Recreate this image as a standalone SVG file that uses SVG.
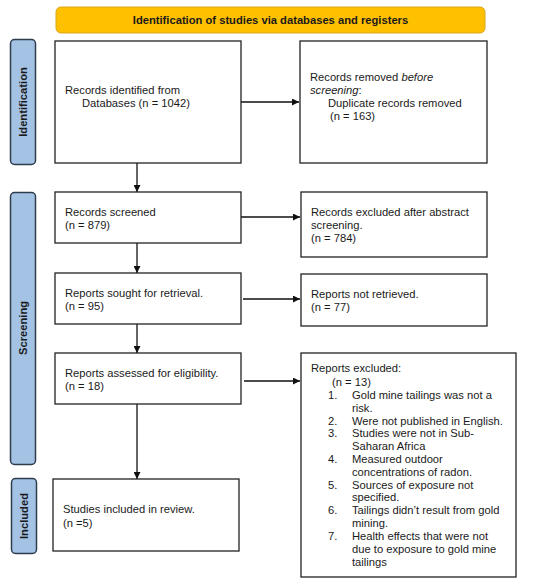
<svg xmlns="http://www.w3.org/2000/svg" width="550" height="584" viewBox="0 0 550 584">
<defs>
<style>
.box{fill:#fff;stroke:#222;stroke-width:1.3}
.side{fill:#a4c2e4;stroke:#2e3c4c;stroke-width:1.5}
.t{font-family:"Liberation Sans",Arial,sans-serif;font-size:11.2px;fill:#1a1a1a}
.b{font-family:"Liberation Sans",Arial,sans-serif;font-size:11.2px;font-weight:bold;fill:#1a1a1a}
.c{stroke:#111;stroke-width:1.3;fill:none;marker-end:url(#ah)}
</style>
<marker id="ah" viewBox="0 0 10 10" refX="10" refY="5" markerWidth="7" markerHeight="7" markerUnits="userSpaceOnUse" orient="auto">
<path d="M0,0 L10,5 L0,10 z" fill="#111"/>
</marker>
</defs>
<rect width="550" height="584" fill="#fff"/>

<g id="header">
<rect x="56" y="7" width="429" height="26" rx="5" fill="#ffc000" stroke="#d8a51a" stroke-width="1"/>
<text class="b" x="270.5" y="24" text-anchor="middle">Identification of studies via databases and registers</text>
</g>

<g id="side-identification">
<rect class="side" x="10.5" y="39.5" width="25" height="125" rx="4"/>
<text class="b" transform="translate(27,102) rotate(-90)" text-anchor="middle">Identification</text>
</g>
<g id="side-screening">
<rect class="side" x="10.5" y="192.5" width="25" height="272" rx="4"/>
<text class="b" transform="translate(27,328) rotate(-90)" text-anchor="middle">Screening</text>
</g>
<g id="side-included">
<rect class="side" x="11.5" y="478.5" width="25" height="75" rx="4"/>
<text class="b" transform="translate(28,516) rotate(-90)" text-anchor="middle">Included</text>
</g>

<g id="connectors">
<line class="c" x1="241" y1="102" x2="299" y2="102"/>
<line class="c" x1="137" y1="163" x2="137" y2="192"/>
<line class="c" x1="241" y1="217" x2="300" y2="217"/>
<line class="c" x1="137" y1="243" x2="137" y2="273"/>
<line class="c" x1="243" y1="299" x2="300" y2="299"/>
<line class="c" x1="137" y1="324" x2="137" y2="353"/>
<line class="c" x1="244" y1="381" x2="300" y2="381"/>
<line class="c" x1="137" y1="404" x2="137" y2="479"/>
</g>

<g id="identified">
<rect class="box" x="55" y="41" width="186" height="122"/>
<text class="t" x="65" y="94">Records identified from</text>
<text class="t" x="82" y="107">Databases (n = 1042)</text>
</g>

<g id="removed">
<rect class="box" x="300" y="41" width="187" height="122"/>
<text class="t" x="310" y="81">Records removed <tspan font-style="italic">before</tspan></text>
<text class="t" x="310" y="94"><tspan font-style="italic">screening</tspan>:</text>
<text class="t" x="328" y="107">Duplicate records removed</text>
<text class="t" x="330" y="120">(n = 163)</text>
</g>

<g id="screened">
<rect class="box" x="55" y="192" width="186" height="51"/>
<text class="t" x="65" y="216">Records screened</text>
<text class="t" x="65" y="229">(n = 879)</text>
</g>

<g id="excluded-abstract">
<rect class="box" x="301" y="192" width="186" height="65"/>
<text class="t" x="311" y="216">Records excluded after abstract</text>
<text class="t" x="311" y="229">screening.</text>
<text class="t" x="311" y="242">(n = 784)</text>
</g>

<g id="sought">
<rect class="box" x="55" y="273" width="186" height="51"/>
<text class="t" x="65" y="297">Reports sought for retrieval.</text>
<text class="t" x="65" y="310">(n = 95)</text>
</g>

<g id="not-retrieved">
<rect class="box" x="301" y="274" width="186" height="52"/>
<text class="t" x="311" y="298">Reports not retrieved.</text>
<text class="t" x="311" y="311">(n = 77)</text>
</g>

<g id="assessed">
<rect class="box" x="55" y="353" width="186" height="51"/>
<text class="t" x="65" y="377">Reports assessed for eligibility.</text>
<text class="t" x="65" y="390">(n = 18)</text>
</g>

<g id="reports-excluded">
<rect class="box" x="301" y="353" width="215" height="224"/>
<text class="t" x="311" y="372">Reports excluded:</text>
<text class="t" x="332" y="386">(n = 13)</text>
<text class="t" x="328" y="399">1.</text>
<text class="t" x="352" y="399">Gold mine tailings was not a</text>
<text class="t" x="352" y="412">risk.</text>
<text class="t" x="328" y="425">2.</text>
<text class="t" x="352" y="425">Were not published in English.</text>
<text class="t" x="328" y="437">3.</text>
<text class="t" x="352" y="437">Studies were not in Sub-</text>
<text class="t" x="352" y="450">Saharan Africa</text>
<text class="t" x="328" y="463">4.</text>
<text class="t" x="352" y="463">Measured outdoor</text>
<text class="t" x="352" y="476">concentrations of radon.</text>
<text class="t" x="328" y="489">5.</text>
<text class="t" x="352" y="489">Sources of exposure not</text>
<text class="t" x="352" y="501">specified.</text>
<text class="t" x="328" y="514">6.</text>
<text class="t" x="352" y="514">Tailings didn’t result from gold</text>
<text class="t" x="352" y="527">mining.</text>
<text class="t" x="328" y="540">7.</text>
<text class="t" x="352" y="540">Health effects that were not</text>
<text class="t" x="352" y="553">due to exposure to gold mine</text>
<text class="t" x="352" y="566">tailings</text>
</g>

<g id="included">
<rect class="box" x="53" y="479" width="186" height="72"/>
<text class="t" x="63" y="513">Studies included in review.</text>
<text class="t" x="63" y="527">(n =5)</text>
</g>
</svg>
